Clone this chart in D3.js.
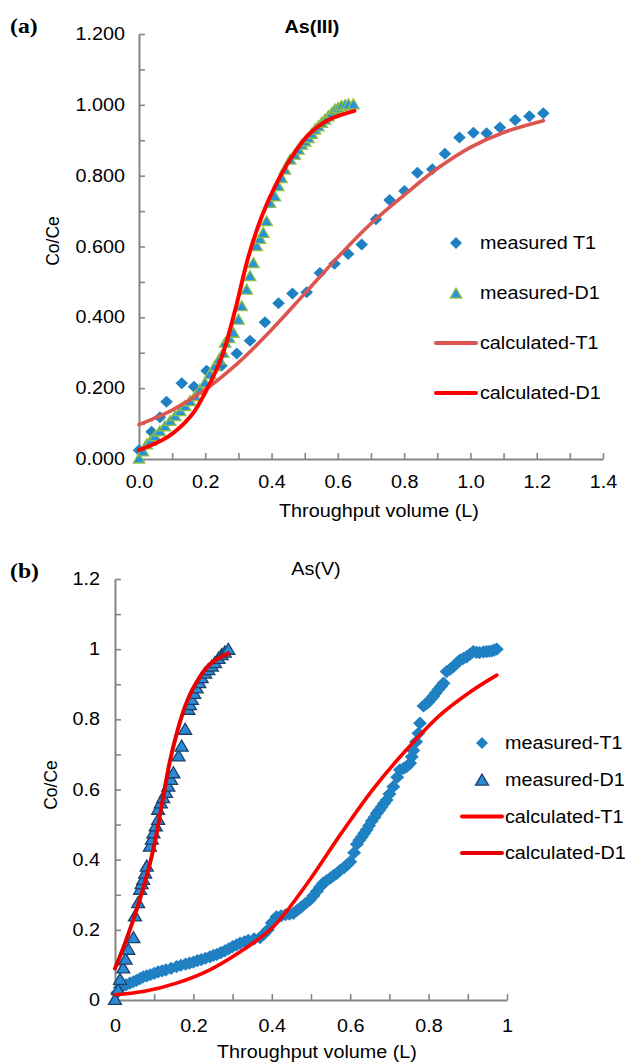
<!doctype html>
<html lang="en">
<head>
  <meta charset="utf-8">
  <title>Breakthrough curves As(III) / As(V)</title>
  <script src="https://d3js.org/d3.v7.min.js"></script>
  <style>
    html, body { margin: 0; padding: 0; background: #fff; }
    svg { display: block; }
    text { font-family: "Liberation Sans", Arial, sans-serif; fill: #000; }
    /* the reference text is slightly wide, stretch it a bit */
    .sx { transform-box: fill-box; transform: scaleX(1.13); }
    .sx-l { transform-origin: 0% 50%; }
    .sx-c { transform-origin: 50% 50%; }
    .sx-r { transform-origin: 100% 50%; }
    .axis path, .axis line { stroke: #868686; }
    .axis path { stroke-width: 2; }
    .axis line { stroke-width: 1.6; }
    .tag { font-family: "Liberation Serif", "Times New Roman", serif; font-weight: bold; }
  </style>
</head>
<body>
<div id="chart"></div>
<script>
// ---- panel (a) As(III) ----
const asIII_measuredT1 = [
  [0.0,0.025],[0.038,0.077],[0.063,0.118],[0.083,0.162],[0.129,0.214],[0.166,0.204],
  [0.204,0.249],[0.249,0.263],[0.295,0.298],[0.335,0.334],[0.38,0.386],[0.421,0.44],
  [0.463,0.467],[0.506,0.471],[0.546,0.525],[0.59,0.551],[0.631,0.579],[0.672,0.606],
  [0.715,0.677],[0.756,0.731],[0.801,0.757],[0.84,0.808],[0.885,0.818],[0.923,0.862],
  [0.967,0.908],[1.009,0.921],[1.049,0.92],[1.089,0.936],[1.135,0.957],[1.178,0.968],[1.22,0.976]
];
const asIII_measuredD1 = [
  [0.0,0.0],[0.012,0.02],[0.023,0.04],[0.035,0.05],[0.048,0.063],[0.063,0.077],[0.078,0.091],
  [0.094,0.106],[0.109,0.12],[0.124,0.134],[0.139,0.148],[0.154,0.162],[0.169,0.176],
  [0.184,0.194],[0.199,0.214],[0.214,0.238],[0.229,0.261],[0.242,0.28],[0.254,0.298],
  [0.26,0.327],[0.272,0.34],[0.285,0.355],[0.3,0.392],[0.31,0.43],[0.325,0.477],
  [0.335,0.515],[0.345,0.552],[0.355,0.6],[0.365,0.62],[0.375,0.637],[0.385,0.67],
  [0.395,0.722],[0.41,0.74],[0.42,0.769],[0.43,0.792],[0.44,0.816],[0.456,0.844],
  [0.47,0.858],[0.481,0.872],[0.491,0.886],[0.501,0.895],[0.511,0.905],[0.521,0.917],
  [0.531,0.929],[0.541,0.938],[0.551,0.948],[0.561,0.957],[0.571,0.966],[0.581,0.975],
  [0.591,0.985],[0.601,0.99],[0.611,0.995],[0.622,0.998],[0.632,1.0],[0.647,1.0]
];
const asIII_calcT1 = [
  [0.0,0.097],[0.1,0.138],[0.2,0.196],[0.3,0.272],[0.4,0.365],[0.5,0.467],[0.6,0.57],
  [0.7,0.665],[0.8,0.745],[0.9,0.82],[1.0,0.88],[1.1,0.922],[1.22,0.955]
];
const asIII_calcD1 = [
  [0.0,0.025],[0.088,0.063],[0.159,0.124],[0.204,0.195],[0.25,0.289],[0.29,0.42],
  [0.33,0.571],[0.37,0.684],[0.41,0.769],[0.461,0.853],[0.511,0.915],[0.571,0.957],[0.65,0.983]
];

// ---- panel (b) As(V) ----
const asV_measuredT1 = [
  [0.005,0.02],[0.012,0.035],[0.02,0.04],[0.028,0.043],[0.038,0.048],[0.047,0.052],
  [0.055,0.056],[0.064,0.061],[0.072,0.066],[0.081,0.069],[0.09,0.072],[0.1,0.076],
  [0.11,0.08],[0.12,0.083],[0.13,0.086],[0.143,0.09],[0.157,0.095],[0.168,0.099],
  [0.18,0.102],[0.19,0.105],[0.2,0.108],[0.21,0.112],[0.22,0.115],[0.231,0.119],
  [0.242,0.123],[0.251,0.127],[0.26,0.13],[0.27,0.135],[0.28,0.14],[0.29,0.146],
  [0.3,0.152],[0.31,0.157],[0.319,0.162],[0.33,0.166],[0.34,0.17],[0.355,0.174],
  [0.37,0.178],[0.38,0.188],[0.39,0.2],[0.4,0.22],[0.412,0.237],[0.424,0.24],
  [0.435,0.243],[0.445,0.245],[0.455,0.247],[0.465,0.256],[0.475,0.265],[0.486,0.275],
  [0.497,0.285],[0.506,0.297],[0.515,0.31],[0.523,0.322],[0.531,0.333],[0.54,0.34],
  [0.55,0.348],[0.558,0.355],[0.566,0.361],[0.575,0.37],[0.585,0.378],[0.593,0.386],
  [0.6,0.394],[0.61,0.42],[0.617,0.444],[0.623,0.455],[0.63,0.465],[0.636,0.475],
  [0.642,0.485],[0.648,0.497],[0.655,0.51],[0.662,0.521],[0.668,0.532],[0.674,0.541],
  [0.68,0.55],[0.686,0.56],[0.693,0.57],[0.7,0.587],[0.71,0.608],[0.72,0.635],
  [0.727,0.656],[0.736,0.66],[0.744,0.665],[0.753,0.675],[0.757,0.693],[0.761,0.711],
  [0.768,0.736],[0.774,0.76],[0.778,0.789],[0.787,0.838],[0.794,0.844],[0.8,0.85],
  [0.806,0.858],[0.812,0.866],[0.818,0.875],[0.825,0.885],[0.832,0.894],[0.838,0.903],
  [0.846,0.936],[0.855,0.943],[0.863,0.95],[0.872,0.96],[0.88,0.969],[0.889,0.974],
  [0.897,0.978],[0.906,0.986],[0.914,0.993],[0.922,0.991],[0.93,0.99],[0.94,0.992],
  [0.948,0.993],[0.955,0.994],[0.962,0.995],[0.968,0.998],[0.974,1.0]
];
const asV_measuredD1 = [
  [0.0,0.0],[0.008,0.028],[0.013,0.057],[0.021,0.09],[0.027,0.115],[0.034,0.143],
  [0.047,0.176],[0.051,0.238],[0.059,0.276],[0.064,0.314],[0.068,0.33],[0.072,0.342],
  [0.077,0.36],[0.081,0.38],[0.089,0.437],[0.094,0.457],[0.098,0.475],[0.104,0.495],
  [0.11,0.513],[0.11,0.542],[0.117,0.56],[0.123,0.575],[0.13,0.59],[0.136,0.608],
  [0.143,0.627],[0.149,0.646],[0.162,0.694],[0.17,0.722],[0.179,0.77],[0.187,0.827],
  [0.191,0.84],[0.196,0.855],[0.202,0.872],[0.208,0.888],[0.215,0.903],[0.221,0.917],
  [0.23,0.93],[0.238,0.94],[0.247,0.95],[0.255,0.96],[0.264,0.972],[0.272,0.983],
  [0.28,0.99],[0.289,0.998]
];
const asV_calcT1 = [
  [0.0,0.015],[0.072,0.024],[0.157,0.048],[0.242,0.086],[0.327,0.143],[0.404,0.209],
  [0.489,0.33],[0.574,0.47],[0.659,0.602],[0.744,0.714],[0.829,0.812],[0.906,0.878],[0.974,0.926]
];
const asV_calcD1 = [
  [0.0,0.09],[0.025,0.16],[0.05,0.24],[0.075,0.33],[0.1,0.44],[0.12,0.56],[0.14,0.68],
  [0.16,0.77],[0.18,0.84],[0.2,0.89],[0.24,0.955],[0.289,0.988]
];

const yTicks = d3.range(0, 12.5, 1).map(d => d / 10);
const xTicksA = d3.range(0, 14.5, 1).map(d => d / 10);
const xTicksB = d3.range(0, 10.5, 1).map(d => d / 10);
const legendA = ["measured T1", "measured-D1", "calculated-T1", "calculated-D1"];
const legendB = ["measured-T1", "measured-D1", "calculated-T1", "calculated-D1"];

const W = 628, H = 1063;
const svg = d3.select('#chart').append('svg').attr('width', W).attr('height', H);

const diamond = (rx, ry) => `M0,${-ry}L${rx},0L0,${ry}L${-rx},0Z`;
const triangle = (w, h) => `M0,${-h * 0.6}L${w / 2},${h * 0.4}L${-w / 2},${h * 0.4}Z`;
const isMajor = v => Math.round(v * 10) % 2 === 0;

function drawPanel(p) {
  const x = d3.scaleLinear().domain(p.xDomain).range([p.left, p.right]);
  const y = d3.scaleLinear().domain([0, 1.2]).range([p.bottom, p.top]);
  const g = svg.append('g');

  // axes (ticks point inward like Excel)
  const ax = g.append('g').attr('class', 'axis')
    .attr('transform', `translate(0,${p.bottom})`)
    .call(d3.axisBottom(x).tickValues(p.xTicks).tickSize(-6).tickSizeOuter(0)
      .tickPadding(p.xPad).tickFormat(v => isMajor(v) ? p.xFmt(v) : ''));
  const ay = g.append('g').attr('class', 'axis')
    .attr('transform', `translate(${p.left},0)`)
    .call(d3.axisLeft(y).tickValues(yTicks).tickSize(-6).tickSizeOuter(0)
      .tickPadding(p.yPad).tickFormat(v => isMajor(v) ? p.yFmt(v) : ''));
  ax.selectAll('text').attr('font-size', 17.5).attr('font-family', null)
    .attr('class', 'sx sx-c');
  ay.selectAll('text').attr('font-size', 17.5).attr('font-family', null)
    .attr('class', 'sx sx-r');

  // measured T1 diamonds
  g.append('g').selectAll('path').data(p.mT1).join('path')
    .attr('transform', d => `translate(${x(d[0])},${y(d[1])})`)
    .attr('d', diamond(p.dmX, p.dmY))
    .attr('fill', '#1f80c2');

  // measured D1 triangles
  g.append('g').selectAll('path').data(p.mD1).join('path')
    .attr('transform', d => `translate(${x(d[0])},${y(d[1])})`)
    .attr('d', triangle(p.triW, p.triH))
    .attr('fill', p.triFill).attr('stroke', p.triStroke).attr('stroke-width', 1.3);

  const line = d3.line().x(d => x(d[0])).y(d => y(d[1])).curve(d3.curveCatmullRom.alpha(0.5));
  g.append('path').datum(p.cT1).attr('d', line)
    .attr('fill', 'none').attr('stroke', p.cT1Color).attr('stroke-width', 3.6)
    .attr('stroke-linecap', 'round');
  g.append('path').datum(p.cD1).attr('d', line)
    .attr('fill', 'none').attr('stroke', p.cD1Color).attr('stroke-width', 4)
    .attr('stroke-linecap', 'round');

  // legend
  const lg = g.append('g');
  p.legend.forEach((name, i) => {
    const ly = p.legY + i * p.legStep;
    if (i === 0) {
      lg.append('path').attr('transform', `translate(${p.legX},${ly})`)
        .attr('d', diamond(6, 6)).attr('fill', '#1f80c2');
    } else if (i === 1) {
      lg.append('path').attr('transform', `translate(${p.legX},${ly + 1})`)
        .attr('d', triangle(p.triW, p.triH))
        .attr('fill', p.triFill).attr('stroke', p.triStroke).attr('stroke-width', 1.3);
    } else {
      lg.append('line').attr('x1', p.legX - p.legLine / 2).attr('x2', p.legX + p.legLine / 2)
        .attr('y1', ly).attr('y2', ly)
        .attr('stroke', i === 2 ? p.cT1Color : p.cD1Color).attr('stroke-width', 4)
        .attr('stroke-linecap', 'round');
    }
    lg.append('text').attr('class', 'sx sx-l')
      .attr('x', p.legText).attr('y', ly).attr('dy', '0.35em')
      .attr('font-size', 17.5).text(name);
  });

  // titles
  g.append('text').attr('class', 'sx sx-c')
    .attr('x', p.titleX).attr('y', p.titleY).attr('text-anchor', 'middle')
    .attr('font-size', 17.5).attr('font-weight', p.titleBold ? 'bold' : 'normal')
    .text(p.title);
  g.append('text').attr('class', 'tag sx sx-l')
    .attr('x', 10).attr('y', p.tagY).attr('font-size', 21).text(p.tag);
  g.append('text').attr('class', 'sx sx-c')
    .attr('x', (p.left + p.right) / 2 + p.xTitleShift).attr('y', p.xTitleY)
    .attr('text-anchor', 'middle').attr('font-size', 17.5).text('Throughput volume (L)');
  g.append('text')
    .attr('transform', `translate(${p.yTitleX},${p.yTitleY}) rotate(-90)`)
    .attr('text-anchor', 'middle').attr('font-size', 17.5).text('Co/Ce');
}

drawPanel({
  xDomain: [0, 1.4], left: 139, right: 603, top: 34, bottom: 459,
  xTicks: xTicksA, xFmt: d3.format('.1f'), yFmt: d3.format('.3f'), xPad: 17, yPad: 14,
  mT1: asIII_measuredT1, mD1: asIII_measuredD1, cT1: asIII_calcT1, cD1: asIII_calcD1,
  dmX: 6.3, dmY: 6,
  triW: 11.5, triH: 10, triFill: '#2492dc', triStroke: '#8fbf45',
  cT1Color: '#dd5550', cD1Color: '#ff0000',
  legend: legendA, legX: 456, legY: 243, legStep: 50, legLine: 40, legText: 480,
  title: 'As(III)', titleBold: true, titleX: 312, titleY: 33, tag: '(a)', tagY: 33,
  xTitleShift: 8, xTitleY: 517, yTitleX: 59, yTitleY: 241
});

drawPanel({
  xDomain: [0, 1], left: 115, right: 507, top: 579, bottom: 1000,
  xTicks: xTicksB, xFmt: d3.format('~g'), yFmt: d3.format('~g'), xPad: 20, yPad: 15,
  mT1: asV_measuredT1, mD1: asV_measuredD1, cT1: asV_calcT1, cD1: asV_calcD1,
  dmX: 7, dmY: 6.6,
  triW: 13, triH: 11, triFill: '#2a8ad4', triStroke: '#1d3f6a',
  cT1Color: '#ff0000', cD1Color: '#e60000',
  legend: legendB, legX: 482, legY: 743, legStep: 36.7, legLine: 40, legText: 505,
  title: 'As(V)', titleBold: false, titleX: 316, titleY: 575, tag: '(b)', tagY: 578,
  xTitleShift: 6, xTitleY: 1058, yTitleX: 57, yTitleY: 785
});
</script>
</body>
</html>
